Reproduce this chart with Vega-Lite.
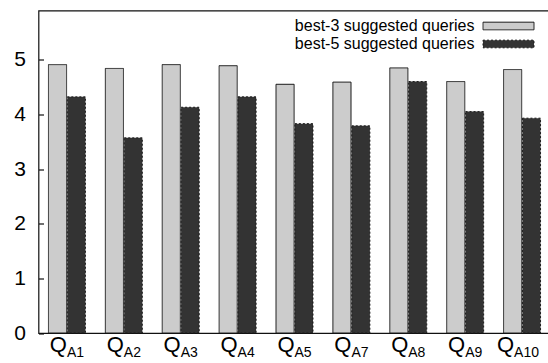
{
  "$schema": "https://vega.github.io/schema/vega-lite/v6.json",
  "width": 512,
  "height": 322.5,
  "autosize": {"type": "none"},
  "padding": {"left": 38.5, "top": 10.5, "right": 0, "bottom": 30},
  "background": "white",
  "config": {"view": {"stroke": "#111111", "strokeWidth": 1.2}, "font": "Liberation Sans"},
  "datasets": {
    "bars": [
      {"query": "A1", "series": "best-3 suggested queries", "value": 4.91},
      {"query": "A1", "series": "best-5 suggested queries", "value": 4.32},
      {"query": "A2", "series": "best-3 suggested queries", "value": 4.84},
      {"query": "A2", "series": "best-5 suggested queries", "value": 3.57},
      {"query": "A3", "series": "best-3 suggested queries", "value": 4.91},
      {"query": "A3", "series": "best-5 suggested queries", "value": 4.13},
      {"query": "A4", "series": "best-3 suggested queries", "value": 4.89},
      {"query": "A4", "series": "best-5 suggested queries", "value": 4.32},
      {"query": "A5", "series": "best-3 suggested queries", "value": 4.55},
      {"query": "A5", "series": "best-5 suggested queries", "value": 3.83},
      {"query": "A7", "series": "best-3 suggested queries", "value": 4.59},
      {"query": "A7", "series": "best-5 suggested queries", "value": 3.79},
      {"query": "A8", "series": "best-3 suggested queries", "value": 4.85},
      {"query": "A8", "series": "best-5 suggested queries", "value": 4.60},
      {"query": "A9", "series": "best-3 suggested queries", "value": 4.60},
      {"query": "A9", "series": "best-5 suggested queries", "value": 4.05},
      {"query": "A10", "series": "best-3 suggested queries", "value": 4.82},
      {"query": "A10", "series": "best-5 suggested queries", "value": 3.93}
    ],
    "labels": [
      {"query": "A1"}, {"query": "A2"}, {"query": "A3"}, {"query": "A4"}, {"query": "A5"},
      {"query": "A7"}, {"query": "A8"}, {"query": "A9"}, {"query": "A10"}
    ]
  },
  "layer": [
    {
      "data": {"name": "bars"},
      "mark": {"type": "bar", "strokeWidth": 1, "stroke": "#1a1a1a"},
      "encoding": {
        "x": {
          "field": "query", "type": "nominal",
          "scale": {"domain": ["A1","A2","A3","A4","A5","A7","A8","A9","A10"], "paddingInner": 0.35, "paddingOuter": 0.175},
          "axis": null
        },
        "xOffset": {"field": "series", "type": "nominal", "scale": {"paddingInner": 0.04}},
        "y": {
          "field": "value", "type": "quantitative",
          "scale": {"domain": [0, 5.9], "nice": false, "zero": true},
          "axis": {
            "values": [0, 1, 2, 3, 4, 5], "format": "d", "title": null, "grid": false, "domain": false,
            "tickSize": -5, "tickColor": "#111111", "tickWidth": 1.2,
            "labelFontSize": 21, "labelColor": "#000000", "labelPadding": 18, "labelFont": "Liberation Sans"
          }
        },
        "color": {
          "field": "series", "type": "nominal",
          "scale": {"range": ["#cccccc", "#333333"]},
          "legend": {
            "orient": "none", "legendX": 444, "legendY": 6.5, "title": null,
            "symbolType": "M-3,-0.45H3V0.45H-3Z", "symbolSize": 289,
            "labelAlign": "right", "labelOffset": -43, "rowPadding": 1,
            "labelFontSize": 16, "labelFont": "Liberation Sans", "labelColor": "#000000",
            "padding": 0, "symbolOffset": 17, "labelLimit": 400,
            "symbolStrokeColor": "#1a1a1a", "symbolStrokeWidth": 1, "symbolOpacity": 1
          }
        },
        "strokeDash": {
          "field": "series", "type": "nominal",
          "scale": {"range": [[1, 0], [2, 2]]},
          "legend": null
        }
      }
    },
    {
      "data": {"name": "labels"},
      "transform": [{"filter": "datum.query !== 'A10'"}],
      "mark": {"type": "text", "text": "Q", "align": "right", "baseline": "alphabetic", "dy": 18.7, "dx": 0, "fontSize": 22, "font": "Liberation Sans", "color": "#000000"},
      "encoding": {
        "x": {"field": "query", "type": "nominal"},
        "y": {"datum": 0}
      }
    },
    {
      "data": {"name": "labels"},
      "transform": [{"filter": "datum.query === 'A10'"}],
      "mark": {"type": "text", "text": "Q", "align": "right", "baseline": "alphabetic", "dy": 18.7, "dx": -8, "fontSize": 22, "font": "Liberation Sans", "color": "#000000"},
      "encoding": {
        "x": {"field": "query", "type": "nominal"},
        "y": {"datum": 0}
      }
    },
    {
      "data": {"name": "labels"},
      "transform": [{"filter": "datum.query !== 'A10'"}],
      "mark": {"type": "text", "align": "left", "baseline": "alphabetic", "dy": 23.7, "dx": 0, "fontSize": 14, "font": "Liberation Sans", "color": "#000000"},
      "encoding": {
        "x": {"field": "query", "type": "nominal"},
        "y": {"datum": 0},
        "text": {"field": "query"}
      }
    },
    {
      "data": {"name": "labels"},
      "transform": [{"filter": "datum.query === 'A10'"}],
      "mark": {"type": "text", "align": "left", "baseline": "alphabetic", "dy": 23.7, "dx": -8, "fontSize": 14, "font": "Liberation Sans", "color": "#000000"},
      "encoding": {
        "x": {"field": "query", "type": "nominal"},
        "y": {"datum": 0},
        "text": {"field": "query"}
      }
    }
  ]
}
